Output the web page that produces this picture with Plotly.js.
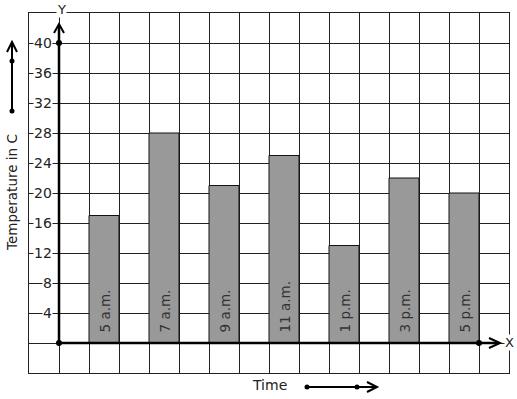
<!DOCTYPE html>
<html><head><meta charset="utf-8">
<script src="https://cdn.plot.ly/plotly-3.0.1.min.js"></script>
<style>html,body{margin:0;padding:0;background:#fff}#c{width:517px;height:399px}</style>
</head><body><div id="c"></div>
<script>
var times = ["5 a.m.", "7 a.m.", "9 a.m.", "11 a.m.", "1 p.m.", "3 p.m.", "5 p.m."];
var temps = [17, 28, 21, 25, 13, 22, 20];
var barPos = [1.5, 3.5, 5.5, 7.5, 9.5, 11.5, 13.5];
var yTicks = [4, 8, 12, 16, 20, 24, 28, 32, 36, 40];

var W = 517, H = 399, L = 29, R = 8, T = 13, B = 26;
var pw = W - L - R, ph = H - T - B;
function px(x) { return (x - L) / pw; }
function py(y) { return (H - B - y) / ph; }
function line(x0, y0, x1, y1, w) {
  return {type: 'line', xref: 'paper', yref: 'paper', x0: px(x0), y0: py(y0), x1: px(x1), y1: py(y1),
    line: {color: '#000', width: w || 2}, layer: 'above'};
}
function path(pts, w) {
  var d = pts.map(function (p, i) { return (i ? 'L' : 'M') + px(p[0]) + ',' + py(p[1]); }).join(' ');
  return {type: 'path', xref: 'paper', yref: 'paper', path: d, line: {color: '#000', width: w || 2}, layer: 'above'};
}
function dot(x, y, r) {
  return {type: 'circle', xref: 'paper', yref: 'paper', x0: px(x - r), x1: px(x + r), y0: py(y + r), y1: py(y - r),
    fillcolor: '#000', line: {color: '#000', width: 0}, layer: 'above'};
}

var shapes = [
  line(59, 343, 59, 25, 2.5),
  path([[54, 33], [59, 24], [64, 33]], 2),
  line(59, 343, 499, 343, 2.5),
  path([[489, 338], [500, 343], [489, 348]], 2),
  line(12, 111, 12, 43, 2),
  path([[7, 52], [12, 42], [17, 52]], 2),
  dot(12, 61, 2.5), dot(12, 111, 2.5),
  line(307, 387, 376, 387, 2),
  path([[367, 382], [377, 387], [367, 392]], 2),
  dot(307, 387, 2.5), dot(357, 387, 2.5)
];

var annotations = [];
yTicks.forEach(function (v) {
  annotations.push({x: -0.2, y: v, xref: 'x', yref: 'y', text: String(v), showarrow: false,
    xanchor: 'right', yanchor: 'middle', bgcolor: '#fff', borderpad: 0,
    font: {family: 'DejaVu Sans', size: 14, color: '#222'}});
});
times.forEach(function (t, i) {
  annotations.push({x: barPos[i], y: 0, xref: 'x', yref: 'y', text: t, showarrow: false, textangle: -90,
    xanchor: 'center', yanchor: 'bottom', yshift: 8,
    font: {family: 'DejaVu Sans', size: 13.5, color: '#333'}});
});
annotations.push({x: px(61), y: py(9), xref: 'paper', yref: 'paper', text: 'Y', showarrow: false,
  xanchor: 'center', yanchor: 'middle', bgcolor: '#fff', borderpad: 0, font: {family: 'DejaVu Sans', size: 13, color: '#222'}});
annotations.push({x: px(509), y: py(342), xref: 'paper', yref: 'paper', text: 'X', showarrow: false,
  xanchor: 'center', yanchor: 'middle', bgcolor: '#fff', borderpad: 0, font: {family: 'DejaVu Sans', size: 13, color: '#222'}});
annotations.push({x: px(269), y: py(385), xref: 'paper', yref: 'paper', text: 'Time', showarrow: false,
  xanchor: 'center', yanchor: 'middle', font: {family: 'DejaVu Sans', size: 14, color: '#222'}});
annotations.push({x: px(12), y: py(193), xref: 'paper', yref: 'paper', text: 'Temperature in C', showarrow: false,
  textangle: -90, xanchor: 'center', yanchor: 'middle', font: {family: 'DejaVu Sans', size: 13.5, color: '#222'}});

var data = [
  {type: 'bar', x: barPos, y: temps, width: 1, marker: {color: '#999999', line: {color: '#111', width: 1}},
   hoverinfo: 'skip'},
  {type: 'scatter', mode: 'markers', x: [0, 0, 14], y: [0, 40, 0], cliponaxis: false,
   marker: {color: '#000', size: 6}, hoverinfo: 'skip'}
];

var layout = {
  width: W, height: H,
  margin: {l: L, r: R, t: T, b: B, pad: 0},
  paper_bgcolor: '#fff', plot_bgcolor: '#fff',
  showlegend: false,
  xaxis: {range: [-1, 15], tick0: -1, dtick: 1, showgrid: true, gridcolor: '#222', gridwidth: 1,
    zeroline: false, showticklabels: false, ticks: '', showline: true, mirror: true, linecolor: '#222', linewidth: 1,
    fixedrange: true},
  yaxis: {range: [-4, 44], tick0: 0, dtick: 4, showgrid: true, gridcolor: '#222', gridwidth: 1,
    zeroline: false, showticklabels: false, ticks: '', showline: true, mirror: true, linecolor: '#222', linewidth: 1,
    fixedrange: true},
  shapes: shapes,
  annotations: annotations,
  font: {family: 'DejaVu Sans'}
};
Plotly.newPlot('c', data, layout, {displayModeBar: false, staticPlot: true});
</script></body></html>
